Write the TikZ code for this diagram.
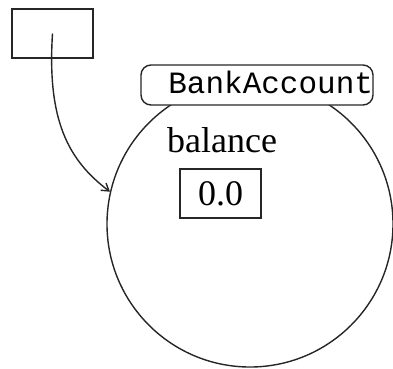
\documentclass[tikz,border=0pt]{standalone}
\usepackage{fontspec}
\setmainfont{Liberation Serif}
\newfontfamily\monofnt{Liberation Mono}
\usetikzlibrary{arrows.meta}
\begin{document}
\begin{tikzpicture}[x=1pt,y=-1pt,
  line/.style={line width=1.4pt, draw=black!85},
  refbox/.style={line, rectangle, minimum width=81pt, minimum height=49pt, inner sep=0pt},
  objcircle/.style={line, circle, minimum size=286pt, inner sep=0pt},
  classtag/.style={line, rectangle, rounded corners=10pt, fill=white, text width=232pt, align=right, inner xsep=0pt, inner ysep=0pt, minimum height=40pt},
  fieldname/.style={anchor=base west, inner sep=0pt, font=\fontsize{36}{36}\selectfont},
  valbox/.style={line, rectangle, minimum width=81pt, minimum height=49pt, inner sep=0pt, font=\fontsize{36}{36}\selectfont},
  pointer/.style={line, -{Straight Barb[length=7pt,width=9pt]}}]
\useasboundingbox (0,0) rectangle (393,368);
\node[refbox] (ptr) at (52.5,33.5) {};
\node[objcircle] (acct) at (250,224) {};
\node[classtag] (cls) at (257,85) {\raisebox{5pt}{\monofnt\fontsize{31}{31}\selectfont BankAccount}};
\node[fieldname] (fld) at (167,152) {balance};
\node[valbox] (val) at (220.5,193.5) {0.0};
\draw[pointer] (ptr.center) .. controls (47,120) and (68,160) .. (acct.167);
\end{tikzpicture}
\end{document}
